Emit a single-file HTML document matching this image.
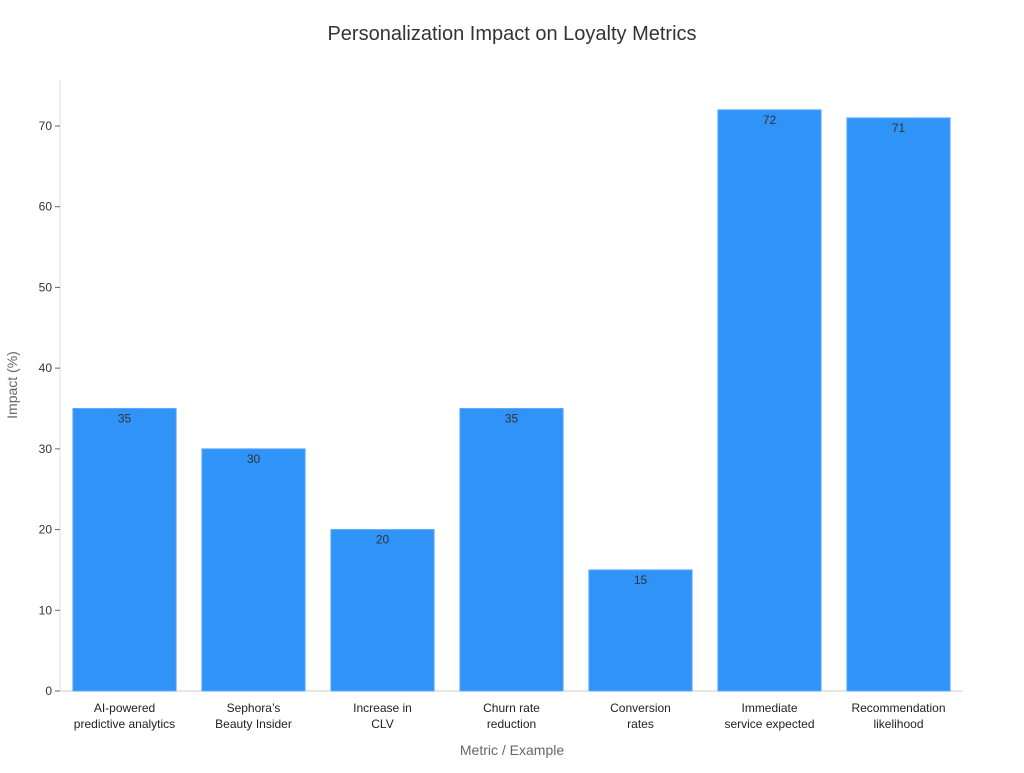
<!DOCTYPE html>
<html><head><meta charset="utf-8"><style>
body{margin:0;background:#fff;font-family:"Liberation Sans","DejaVu Sans",sans-serif;}
</style></head><body>
<svg id="chart" width="1024" height="768" xmlns="http://www.w3.org/2000/svg">
<text x="512" y="40" text-anchor="middle" font-size="20" fill="#333">Personalization Impact on Loyalty Metrics</text>
<text x="512" y="755" text-anchor="middle" font-size="14" fill="#666">Metric / Example</text>
<text transform="translate(17,385) rotate(-90)" text-anchor="middle" font-size="14" fill="#666">Impact (%)</text>
<g id="plot"></g>
</svg>
<script>
const categories=[["AI-powered","predictive analytics"],["Sephora’s","Beauty Insider"],["Increase in","CLV"],["Churn rate","reduction"],["Conversion","rates"],["Immediate","service expected"],["Recommendation","likelihood"]];
const values=[35,30,20,35,15,72,71];
const yTicks=[0,10,20,30,40,50,60,70];
const NS="http://www.w3.org/2000/svg";
const x0=60,x1=963,y0=691,yTop=80;
const band=(x1-x0)/categories.length;
const y=v=>y0-v*(691-126)/70;
const xb=i=>x0+band*i+band*0.1;
const g=document.getElementById('plot');
function mk(t,a){const e=document.createElementNS(NS,t);for(const k in a)e.setAttribute(k,a[k]);g.appendChild(e);return e;}
let ax=mk('line',{x1:x0,y1:yTop,x2:x0,y2:y0,stroke:'#ddd'});


let bx=mk('line',{x1:x0,y1:y0,x2:x1,y2:y0,stroke:'#ccc'});


yTicks.forEach(t=>{
 let l=mk('line',{x1:x0-5,y1:y(t),x2:x0,y2:y(t),stroke:'#666'});
 
 
 let tx=mk('text',{x:x0-8,y:y(t)+4,'text-anchor':'end','font-size':12,fill:'#333'});
 tx.textContent=t;
 
 
});
values.forEach((v,i)=>{
 let r=mk('rect',{x:xb(i),y:y(v),width:band*0.8,height:y0-y(v),fill:'#2f93f7',stroke:'#5aaaf8','stroke-width':1});
 
 
 let tv=mk('text',{x:xb(i)+band*0.4,y:y(v)+14,'text-anchor':'middle','font-size':12,fill:'#333'});
 tv.textContent=v;
 
 
 categories[i].forEach((line,j)=>{
  let c=mk('text',{x:xb(i)+band*0.4,y:712+j*16,'text-anchor':'middle','font-size':12,fill:'#222'});
  c.textContent=line;
  
  
 });
});
</script>
</body></html>
